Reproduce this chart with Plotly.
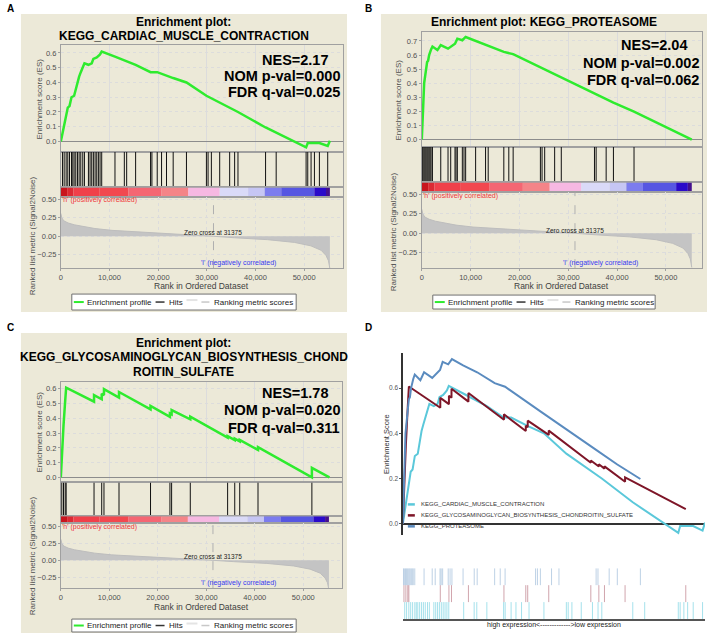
import plotly.graph_objects as go

W, H = 709, 634
FONT = "Liberation Sans, Arial, sans-serif"

# ---------------- data ----------------
rank_ticks = [0, 10000, 20000, 30000, 40000, 50000]
rank_tick_labels = ["0", "10,000", "20,000", "30,000", "40,000", "50,000"]
zero_cross = 31375

metric_rank = [0, 60, 200, 600, 1500, 2800, 4300, 7000, 10500, 15000, 20000, 26200,
               31375, 35700, 42500, 48000, 51400, 53500, 54500, 55000, 55200, 55300]
metric_value = [0.31, 0.28, 0.25, 0.21, 0.18, 0.155, 0.135, 0.105, 0.08, 0.063, 0.05, 0.028,
                0.0, -0.02, -0.046, -0.083, -0.13, -0.19, -0.26, -0.33, -0.42, -0.44]

colorbar_edges = [0, 1300, 2600, 8000, 13900, 20700, 26200, 32650, 38500, 41900, 45300, 52100, 54500, 55300]
colorbar_colors = ["#C8141E", "#DC2A34", "#F0404A", "#F2484F", "#F46673", "#F48488", "#F6B8E2",
                   "#DADAF8", "#C6C6F4", "#7C7CEE", "#5656E2", "#2A0ACA", "#44108E"]

cardiac_name = "KEGG_CARDIAC_MUSCLE_CONTRACTION"
cardiac_hits = [340, 680, 1090, 1430, 1780, 2190, 2460, 2730, 3070, 3420, 3760, 4100, 4510, 4850,
                5670, 6010, 6350, 6690, 7040, 7380, 7720, 8060, 8400, 11130, 13050, 13530, 15370,
                18440, 18720, 19810, 20700, 21720, 23090, 25820, 29920, 30260, 30940, 32650, 34700,
                35720, 36410, 42080, 44260, 50410, 50750, 51430, 52120, 53140, 54850]
cardiac_es_rank = [0, 340, 680, 1090, 1430, 1780, 2190, 2730, 3070, 3420, 3760, 4100, 4510, 4850,
                   5670, 6350, 6690, 7380, 8060, 8400, 11130, 13050, 15370, 18440, 19810, 23090,
                   25820, 29920, 36410, 42080, 44260, 50410, 50750, 53140, 54850, 55300]
cardiac_es = [0.0, 0.05, 0.12, 0.16, 0.23, 0.24, 0.30, 0.31, 0.36, 0.41, 0.44, 0.47, 0.50, 0.53,
              0.52, 0.53, 0.56, 0.57, 0.59, 0.61, 0.575, 0.55, 0.52, 0.47, 0.47, 0.43,
              0.40, 0.31, 0.20, 0.095, 0.06, -0.04, -0.01, -0.01, -0.03, 0.005]
cardiac_stats = ["NES=2.17", "NOM p-val=0.000", "FDR q-val=0.025"]

proteasome_name = "KEGG_PROTEASOME"
proteasome_hits = [100, 270, 480, 680, 880, 1090, 1290, 1500, 1700, 1900, 2180, 3880, 5370, 5920,
                   6800, 7010, 7280, 8300, 8640, 8980, 11020, 13060, 13600, 16800, 17820, 18710,
                   24290, 24630, 25170, 27210, 28570, 35370, 35710, 37760, 39250, 43470]
proteasome_es_rank = [0, 100, 270, 480, 680, 880, 1090, 1290, 1500, 1900, 2180, 3200, 3880, 5370,
                      5920, 6800, 7280, 8300, 8980, 11020, 13600, 16800, 18710, 24290, 25170,
                      35370, 39250, 43470, 55300]
proteasome_es = [0.0, 0.09, 0.29, 0.40, 0.45, 0.50, 0.55, 0.56, 0.60, 0.64, 0.66, 0.635, 0.67, 0.645,
                 0.66, 0.68, 0.716, 0.705, 0.728, 0.70, 0.67, 0.622, 0.606, 0.511, 0.497,
                 0.327, 0.262, 0.198, 0.0]
proteasome_stats = ["NES=2.04", "NOM p-val=0.002", "FDR q-val=0.062"]

glyco_name = "KEGG_GLYCOSAMINOGLYCAN_BIOSYNTHESIS_CHONDROITIN_SULFATE"
glyco_hits = [200, 550, 900, 1100, 6850, 8430, 8900, 12000, 18500, 22500, 22850, 26700, 34400,
              35870, 36900, 40670, 51780]
glyco_es_rank = [0, 200, 550, 900, 1100, 6850, 6850, 8430, 8430, 8900, 8900, 12000, 12000, 18500,
                 18500, 22500, 22500, 22850, 22850, 26700, 26700, 34400, 34400, 35870, 35870,
                 36900, 36900, 40670, 40670, 51780, 51780, 55400]
glyco_es = [0.0, 0.14, 0.35, 0.52, 0.607, 0.513, 0.557, 0.529, 0.566, 0.557, 0.597, 0.54, 0.578, 0.46,
            0.484, 0.41, 0.433, 0.427, 0.456, 0.393, 0.412, 0.27, 0.28, 0.253, 0.263,
            0.244, 0.254, 0.186, 0.205, 0.0, 0.065, 0.0]
glyco_stats = ["NES=1.78", "NOM p-val=0.020", "FDR q-val=0.311"]

# ---------------- figure helpers ----------------
fig = go.Figure()
axes = {}
shapes = []
annotations = []
count = [0]


def fx(p):
    return p / W


def fy(p):
    return 1 - p / H


def new_axes(x0, x1, y0, y1, xkw, ykw):
    count[0] += 1
    s = "" if count[0] == 1 else str(count[0])
    axes["xaxis" + s] = dict(domain=[fx(x0), fx(x1)], anchor="y" + s, fixedrange=True, **xkw)
    axes["yaxis" + s] = dict(domain=[fy(y1), fy(y0)], anchor="x" + s, fixedrange=True, **ykw)
    return "x" + s, "y" + s


def label(x, y, s, size, color="#000000", bold=False, xanchor="center", yanchor="middle",
          angle=0, xref="paper", yref="paper"):
    annotations.append(dict(
        x=fx(x) if xref == "paper" else x, y=fy(y) if yref == "paper" else y,
        xref=xref, yref=yref, text=("<b>%s</b>" % s) if bold else s, showarrow=False,
        font=dict(size=size, color=color, family=FONT), xanchor=xanchor, yanchor=yanchor,
        textangle=angle, borderpad=0))


def hline(x0, x1, y, color, width):
    shapes.append(dict(type="line", xref="paper", yref="paper", x0=fx(x0), x1=fx(x1),
                       y0=fy(y), y1=fy(y), line=dict(color=color, width=width)))


def hit_lines(hits, y0, y1):
    xs, ys = [], []
    for h in hits:
        xs += [h, h, None]
        ys += [y0, y1, None]
    return xs, ys


FRAME = "#A0A0A0"
GRID = "#DCDCDC"
TICKF = dict(size=7.5, color="#505050", family=FONT)
NOAX = dict(showticklabels=False, ticks="", showgrid=False, zeroline=False,
            showline=True, mirror=True, linecolor=FRAME, linewidth=1)


def gsea_panel(p, hits, es_rank, es_val, stats):
    bx0, by0, bx1, by1 = p["box"]
    shapes.append(dict(type="rect", xref="paper", yref="paper", x0=fx(bx0), x1=fx(bx1),
                       y0=fy(by1), y1=fy(by0), fillcolor="#ECE9D8", line=dict(width=0),
                       layer="below"))
    label(p["letter_xy"][0], p["letter_xy"][1], p["letter"], 10, bold=True, xanchor="left")
    cx = (bx0 + bx1) / 2
    for t, ty in zip(p["title"], p["title_y"]):
        label(cx, ty, t, 12, bold=True)
    x0, x1 = p["x"]
    xr = [0, p["xmax"]]

    # enrichment score
    xa, ya = new_axes(x0, x1, p["es"][0], p["es"][1],
                      dict(range=xr, showticklabels=False, ticks="", tickvals=rank_ticks,
                           showgrid=True, gridcolor=GRID, zeroline=False, showline=True,
                           mirror=True, linecolor=FRAME),
                      dict(range=p["es_range"], tickvals=p["es_ticks"], tickformat=".1f",
                           tickfont=TICKF, ticks="outside", ticklen=2, tickcolor=FRAME,
                           showgrid=True, gridcolor=GRID, griddash="dot", zeroline=True,
                           zerolinecolor="#8C8C8C", zerolinewidth=1, showline=True,
                           mirror=True, linecolor=FRAME))
    fig.add_trace(go.Scatter(x=es_rank, y=es_val, xaxis=xa, yaxis=ya, mode="lines",
                             line=dict(color="#2EEB2E", width=2.5), showlegend=False,
                             hoverinfo="skip"))
    for s, sy, off in zip(stats, p["stats_y"], [-11, 0, 0]):
        label(p["stats_x"] + off, sy, s, 14.5, bold=True, xanchor="right")
    label(p["es_title_x"], p["es_title_y"], "Enrichment score (ES)", 8,
          color="#505050", angle=-90)

    # hits
    xa, ya = new_axes(x0, x1, p["hits"][0], p["hits"][1], dict(range=xr, **NOAX),
                      dict(range=[0, 1], **NOAX))
    hx, hy = hit_lines(hits, 0, 1)
    fig.add_trace(go.Scatter(x=hx, y=hy, xaxis=xa, yaxis=ya, mode="lines",
                             line=dict(color="#111111", width=1), showlegend=False,
                             hoverinfo="skip"))

    # colour bar
    xa, ya = new_axes(x0, x1, p["bar"][0], p["bar"][1], dict(range=xr, **NOAX),
                      dict(range=[0, 1], **NOAX))
    mids = [(a + b) / 2 for a, b in zip(colorbar_edges[:-1], colorbar_edges[1:])]
    widths = [b - a for a, b in zip(colorbar_edges[:-1], colorbar_edges[1:])]
    fig.add_trace(go.Bar(x=mids, y=[1] * len(mids), width=widths, base=0,
                         marker=dict(color=colorbar_colors, line=dict(width=0)),
                         xaxis=xa, yaxis=ya, showlegend=False, hoverinfo="skip"))

    # ranked list metric
    xa, ya = new_axes(x0, x1, p["rank"][0], p["rank"][1],
                      dict(range=xr, tickvals=rank_ticks, ticktext=rank_tick_labels,
                           tickfont=TICKF, ticks="outside", ticklen=2, tickcolor=FRAME,
                           showgrid=True, gridcolor=GRID, griddash="dot", zeroline=False,
                           showline=True, mirror=True, linecolor=FRAME),
                      dict(range=p["rank_range"], tickvals=[-0.25, 0, 0.25, 0.5],
                           tickformat=".2f", tickfont=TICKF, ticks="outside", ticklen=2,
                           tickcolor=FRAME, showgrid=True, gridcolor=GRID, griddash="dot",
                           zeroline=False, showline=True, mirror=True, linecolor=FRAME))
    fig.add_trace(go.Scatter(x=metric_rank, y=metric_value, xaxis=xa, yaxis=ya, mode="lines",
                             fill="tozeroy", fillcolor="#C4C4C4",
                             line=dict(color="#BDBDBD", width=1), showlegend=False,
                             hoverinfo="skip"))
    fig.add_trace(go.Scatter(x=[zero_cross, zero_cross], y=p["rank_range"], xaxis=xa, yaxis=ya,
                             mode="lines", line=dict(color="#B0B0B0", width=1, dash="dash"),
                             showlegend=False, hoverinfo="skip"))
    label(zero_cross, p["zc_y"], "Zero cross at 31375", 6.5, color="#222222", xref=xa)
    label(0, p["h_y"], "'h' (positively correlated)", 7, color="#F03838", xanchor="left",
          xref=xa)
    label(28700, p["l_y"], "'l' (negatively correlated)", 7, color="#3A3AF0", xanchor="left",
          xref=xa)
    label(p["rank_title"][0], p["rank_title"][1], "Ranked list metric (Signal2Noise)", 8,
          color="#505050", angle=-90)
    label((x0 + x1) / 2, p["xtitle_y"], "Rank in Ordered Dataset", 8.5, color="#404040")

    # legend box
    lx0, ly0, lx1, ly1 = p["legend"]
    shapes.append(dict(type="rect", xref="paper", yref="paper", x0=fx(lx0), x1=fx(lx1),
                       y0=fy(ly1), y1=fy(ly0), fillcolor="white",
                       line=dict(color="#707070", width=1)))
    yc = (ly0 + ly1) / 2
    hline(lx0 + 2, lx0 + 12, yc, "#2EEB2E", 2)
    label(lx0 + 14, yc, "Enrichment profile", 8, color="#222222", xanchor="left")
    hline(lx0 + 84, lx0 + 93, yc, "#333333", 1.5)
    label(lx0 + 96, yc, "Hits", 8, color="#222222", xanchor="left")
    hline(lx0 + 115, lx0 + 126, yc - 2, "#E4E4E4", 2)
    hline(lx0 + 130, lx0 + 138, yc, "#C8C8C8", 1.5)
    label(lx0 + 142, yc, "Ranking metric scores", 8, color="#222222", xanchor="left")


panel_a = dict(letter="A", letter_xy=(4, 7), box=(19, 12, 346, 311),
               title=["Enrichment plot:", cardiac_name], title_y=[20, 34],
               x=(59, 342), xmax=58000, es=(43, 150), hits=(150, 186), bar=(186, 196),
               rank=(196, 267), es_range=[-0.068, 0.655],
               es_ticks=[0, 0.1, 0.2, 0.3, 0.4, 0.5, 0.6], rank_range=[-0.432, 0.527],
               stats_x=340, stats_y=[58, 74, 90], es_title_x=38, es_title_y=97,
               rank_title=(30, 234),
               xtitle_y=285, legend=(70, 293, 295, 309), h_y=199, l_y=262, zc_y=231)
panel_b = dict(letter="B", letter_xy=(363, 7), box=(380, 12, 707, 311),
               title=["Enrichment plot: " + proteasome_name], title_y=[20],
               x=(421, 702), xmax=57400, es=(30, 145), hits=(145, 181), bar=(181, 191),
               rank=(191, 267), es_range=[-0.05, 0.764],
               es_ticks=[0, 0.1, 0.2, 0.3, 0.4, 0.5, 0.6, 0.7], rank_range=[-0.449, 0.526],
               stats_x=700, stats_y=[43, 61, 78], es_title_x=398, es_title_y=98,
               rank_title=(392, 230),
               xtitle_y=285, legend=(432, 294, 655, 308), h_y=195, l_y=262, zc_y=229)
panel_c = dict(letter="C", letter_xy=(4, 327), box=(19, 332, 346, 633),
               title=["Enrichment plot:", "KEGG_GLYCOSAMINOGLYCAN_BIOSYNTHESIS_CHOND",
                      "ROITIN_SULFATE"], title_y=[342, 356.5, 371.5],
               x=(59, 341), xmax=58000, es=(381, 482), hits=(482, 516), bar=(516, 523),
               rank=(523, 588), es_range=[-0.034, 0.647],
               es_ticks=[0, 0.1, 0.2, 0.3, 0.4, 0.5, 0.6], rank_range=[-0.41, 0.544],
               stats_x=340, stats_y=[392, 409, 427], es_title_x=38, es_title_y=431,
               rank_title=(30, 555),
               xtitle_y=607, legend=(70, 619, 295, 632), h_y=527, l_y=583, zc_y=556)

gsea_panel(panel_a, cardiac_hits, cardiac_es_rank, cardiac_es, cardiac_stats)
gsea_panel(panel_b, proteasome_hits, proteasome_es_rank, proteasome_es, proteasome_stats)
gsea_panel(panel_c, glyco_hits, glyco_es_rank, glyco_es, glyco_stats)

# ---------------- panel D ----------------
label(363, 327, "D", 10, bold=True, xanchor="left")
# (name, hits, es ranks, es values, line colour, hit colour, draw whole curve)
d_series = [
    (cardiac_name, cardiac_hits, cardiac_es_rank, cardiac_es, "#5BC8DA",
     "rgba(91,200,218,0.55)", True),
    (glyco_name, glyco_hits, glyco_es_rank, glyco_es, "#7E1628", "rgba(140,30,50,0.40)", False),
    (proteasome_name, proteasome_hits, proteasome_es_rank, proteasome_es, "#5A8BBF",
     "rgba(90,139,191,0.40)", False),
]
d_xmax = 55300
xa, ya = new_axes(402, 705, 351.7, 535,
                  dict(range=[0, d_xmax], showticklabels=False, ticks="", showgrid=False,
                       zeroline=False, showline=False),
                  dict(range=[-0.051, 0.757], tickvals=[0, 0.2, 0.4, 0.6], tickformat=".1f",
                       tickfont=dict(size=6.5, color="#555555", family=FONT), ticks="outside",
                       ticklen=2, tickcolor="#555555", showgrid=False, zeroline=True,
                       zerolinecolor="#333333", zerolinewidth=1.5, showline=True,
                       linecolor="#333333", linewidth=1.5))
for name, hits, er, ev, col, _, whole in d_series:
    if whole:
        xs, ys = list(er), list(ev)
    else:
        last = max(hits)
        xs = [r for r in er if r < last] + [last]
        ys = [v for r, v in zip(er, ev) if r < last] + [ev[len(er) - 1 - er[::-1].index(last)]]
    fig.add_trace(go.Scatter(x=xs, y=ys, xaxis=xa, yaxis=ya, mode="lines",
                             line=dict(color=col, width=2), showlegend=False, hoverinfo="skip"))
label(385, 443.5, "Enrichment Score", 7.5, color="#333333", angle=-90)
for i, (name, hits, er, ev, col, _, whole) in enumerate(d_series):
    y = 504 + 11 * i
    hline(407, 414, y, col, 2.5)
    label(419, y, name, 6, color="#333333", xanchor="left")

xa, ya = new_axes(402, 705, 568, 619,
                  dict(range=[0, d_xmax], showticklabels=False, ticks="", showgrid=False,
                       zeroline=False, showline=True, linecolor="#555555", linewidth=2),
                  dict(range=[0, 3], showticklabels=False, ticks="", showgrid=False,
                       zeroline=False, showline=False))
for row, (name, hits, er, ev, col, hcol, whole) in enumerate(d_series):
    hx, hy = hit_lines(hits, row, row + 1)
    fig.add_trace(go.Scatter(x=hx, y=hy, xaxis=xa, yaxis=ya, mode="lines",
                             line=dict(color=hcol, width=1), showlegend=False, hoverinfo="skip"))
label(553.5, 624.5, "high expression&lt;-------------&gt;low expression", 7, color="#222222")

fig.update_layout(
    width=W, height=H, margin=dict(l=0, r=0, t=0, b=0), autosize=False,
    paper_bgcolor="white", plot_bgcolor="white", showlegend=False,
    font=dict(family=FONT), shapes=shapes, annotations=annotations, **axes)

fig.write_html("out.html", config={"displayModeBar": False, "staticPlot": True},
               post_script="document.body.style.margin='0';document.body.style.overflow='hidden';")
